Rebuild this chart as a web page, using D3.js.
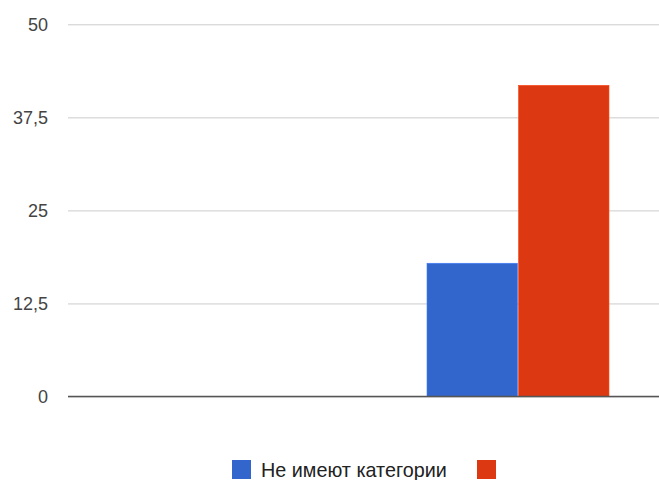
<!DOCTYPE html>
<html>
<head>
<meta charset="utf-8">
<script src="https://cdn.jsdelivr.net/npm/d3@7"></script>
<style>
  body { margin: 0; background: #fff; }
  svg { display: block; font-family: Arial, "Liberation Sans", sans-serif; }
</style>
</head>
<body>
<svg></svg>
<script>
var width = 659;
var height = 480;
var margin = ({top: 24.3, right: -9, bottom: 83.5, left: 68});

// data
var categories = ["1", "2"];
var seriesNames = ["Не имеют категории", ""];
var seriesColors = ["#3366cc", "#dc3912"];
var noCategory = [0, 17.9];
var secondSeries = [0, 41.8];
var yTicks = [0, 12.5, 25, 37.5, 50];

var seriesValues = [noCategory, secondSeries];

var svg = d3.select("svg")
    .attr("width", width)
    .attr("height", height)
    .attr("viewBox", [0, 0, width, height]);

var x = d3.scaleBand()
    .domain(categories)
    .range([margin.left, width - margin.right])
    .paddingInner(0.39)
    .paddingOuter(0.195);

var xs = d3.scaleBand()
    .domain(d3.range(seriesNames.length))
    .range([0, x.bandwidth()]);

var y = d3.scaleLinear()
    .domain([0, 50])
    .range([height - margin.bottom, margin.top]);

var fmt = d => String(d).replace(".", ",");

// gridlines + labels
svg.append("g")
    .attr("transform", `translate(${margin.left},0)`)
    .call(d3.axisLeft(y).tickValues(yTicks).tickSize(-(width - margin.right - margin.left)).tickPadding(20).tickFormat(fmt))
    .call(g => g.select(".domain").remove())
    .call(g => g.selectAll(".tick line").attr("stroke", "#cccccc"))
    .call(g => g.selectAll(".tick text")
        .attr("fill", "#444")
        .attr("font-size", 18)
        .attr("font-family", "Arial, 'Liberation Sans', sans-serif"));

// bars
var rows = [];
categories.forEach((c, i) => {
    seriesValues.forEach((vals, s) => {
        rows.push({cat: c, s: s, v: vals[i]});
    });
});

svg.append("g")
    .selectAll("rect")
    .data(rows.filter(d => d.v > 0))
    .join("rect")
    .attr("x", d => x(d.cat) + xs(d.s) + 0.5)
    .attr("y", d => y(d.v))
    .attr("width", xs.bandwidth() - 1)
    .attr("height", d => y(0) - y(d.v))
    .attr("fill", d => seriesColors[d.s])
    .attr("stroke", d => d3.color(seriesColors[d.s]).brighter(0.6))
    .attr("stroke-width", 0.6);

// baseline
svg.append("line")
    .attr("x1", margin.left)
    .attr("x2", width - margin.right)
    .attr("y1", y(0))
    .attr("y2", y(0))
    .attr("stroke", "#555")
    .attr("stroke-width", 1.6);

// legend
var legend = svg.append("g").attr("transform", "translate(232,460)");
var lx = [0, 245];
seriesNames.forEach((name, i) => {
    var g = legend.append("g").attr("transform", `translate(${lx[i]},0)`);
    g.append("rect")
        .attr("width", 19)
        .attr("height", 19)
        .attr("fill", seriesColors[i]);
    g.append("text")
        .attr("x", 29)
        .attr("y", 17)
        .attr("font-size", 19.8)
        .attr("fill", "#222")
        .text(name);
});
</script>
</body>
</html>
